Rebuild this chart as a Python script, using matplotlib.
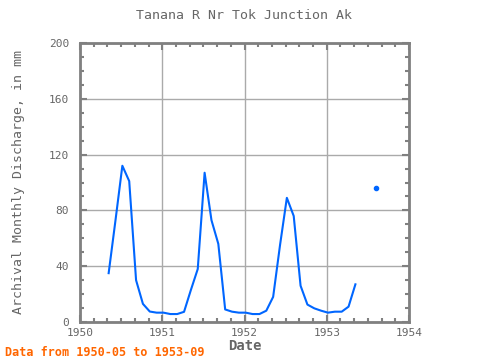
import numpy as np
import matplotlib
matplotlib.use("Agg")
import matplotlib.pyplot as plt
from matplotlib.ticker import MultipleLocator

# Monthly discharge, 1950-05 .. 1953-09 (mm), NaN = missing
years = [1950] * 8 + [1951] * 12 + [1952] * 12 + [1953] * 9
months = list(range(5, 13)) + list(range(1, 13)) * 2 + list(range(1, 10))
discharge = [
    35, 73, 112, 101, 30, 13, 7.5, 6.7,                        # 1950
    6.7, 5.7, 5.7, 7.3, 23, 38, 107, 73, 56, 9, 7.4, 6.7,      # 1951
    6.7, 5.7, 5.7, 8.1, 18, 55, 89, 76, 26, 12.5, 9.8, 8.1,    # 1952
    6.7, 7.4, 7.4, 11, 27, np.nan, np.nan, 96, np.nan,         # 1953
]

t = np.array(years) + (np.array(months) - 1) / 12 + 0.015
q = np.array(discharge, dtype=float)

plt.rcParams['font.family'] = ['DejaVu Sans Mono']
grey = '#666666'
blue = '#0066ff'

fig = plt.figure(figsize=(4.8, 3.6), dpi=100)
ax = fig.add_axes([80 / 480, 1 - 322 / 360, 329 / 480, 279 / 360])

ax.plot(t, q, color=blue, lw=1.5)
# isolated months (no neighbours) shown as dots
ok = ~np.isnan(q)
prev_ok = np.r_[False, ok[:-1]]
next_ok = np.r_[ok[1:], False]
lone = ok & ~prev_ok & ~next_ok
ax.plot(t[lone], q[lone], 'o', color=blue, ms=3)

ax.set_xlim(1950, 1954)
ax.set_ylim(0, 200)
ax.xaxis.set_major_locator(MultipleLocator(1))
ax.xaxis.set_minor_locator(MultipleLocator(1 / 6))
ax.yaxis.set_major_locator(MultipleLocator(40))
ax.yaxis.set_minor_locator(MultipleLocator(10))
ax.xaxis.set_major_formatter(plt.FuncFormatter(lambda v, p: f"{int(round(v))}"))
ax.grid(True, which='major', color='#aaaaaa', lw=1)
ax.tick_params(which='both', direction='in', top=True, right=True,
               colors='#808080', labelcolor=grey, labelsize=8)
ax.tick_params(which='major', length=5, width=1.5)
ax.tick_params(which='minor', length=3, width=1.5)
ax.tick_params(axis='y', pad=8)
ax.tick_params(axis='x', pad=4)
for s in ax.spines.values():
    s.set_color('#808080')
    s.set_linewidth(2)

ax.set_title('Tanana R Nr Tok Junction Ak', color=grey, fontsize=9.5, pad=17)
ax.set_xlabel('Date', color=grey, fontsize=10, fontweight='bold', labelpad=1)
ax.set_ylabel('Archival Monthly Discharge, in mm', color=grey, fontsize=9.5,
              labelpad=17)
fig.text(5 / 480, 1 - 352 / 360, 'Data from 1950-05 to 1953-09', color='#ff6600',
         fontsize=8.5, fontweight='bold', va='center')

fig.savefig('out.png', dpi=100)
